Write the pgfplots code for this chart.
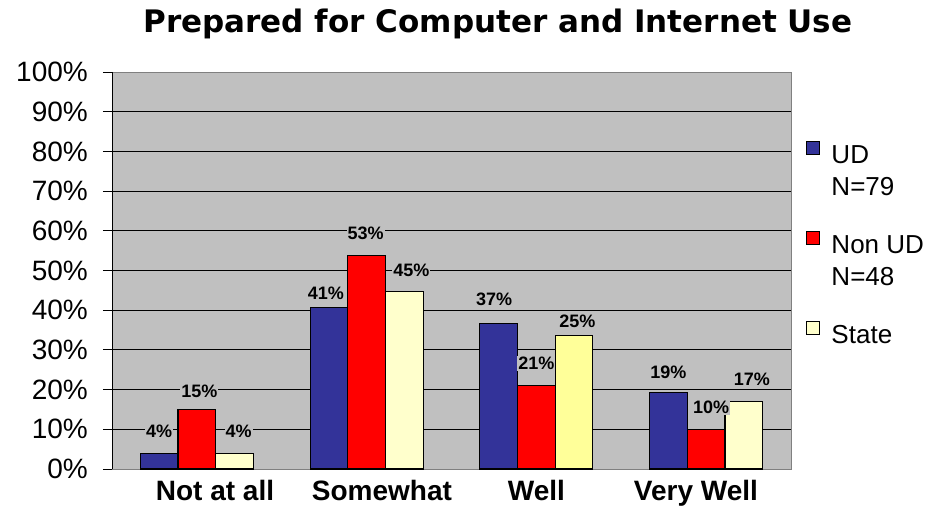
\documentclass[border=0pt]{standalone}
\usepackage{fontspec}
\setmainfont{Liberation Sans}
\newfontfamily\titlefont{DejaVu Sans}
\usepackage{pgfplots}
\usepackage{pgfplotstable}
\pgfplotsset{compat=1.18}
\definecolor{udblue}{HTML}{333399}
\definecolor{nonred}{HTML}{FF0000}
\definecolor{statey}{HTML}{FFFFCC}
\definecolor{statey2}{HTML}{FFFF99}
\definecolor{plotgray}{HTML}{C0C0C0}
\definecolor{framegray}{HTML}{808080}

\pgfplotstableread{
x y lbl off xoff
0 4.0 4 22 0
1 40.6 41 14.7 -3
2 36.6 37 24 -4.5
3 19.2 19 20.7 0
}\ud
\pgfplotstableread{
x y lbl off xoff
0 15.1 15 17.7 2.5
1 53.8 53 22 -1
2 21.1 21 22 0
3 10.0 10 21.7 5
}\nonud
\pgfplotstableread{
x y lbl off xoff
0 4.0 4 22 4
1 44.8 45 21.3 7
3 17.1 17 21.7 8
}\state
\pgfplotstableread{
x y lbl off xoff
2 33.7 25 13.7 3.4
}\statewell

\newcommand\leg[1]{\rule[-7.2bp]{0pt}{33bp}#1}
\newcommand\spacer{\rule{0pt}{22bp}}

\begin{document}
\begin{tikzpicture}
\path[use as bounding box] (-112bp,-38bp) rectangle (831bp,469bp);
\begin{axis}[
  at={(0,0)}, anchor=south west,
  scale only axis, width=679bp, height=397bp,
  xmin=-0.5, xmax=3.5, ymin=0, ymax=100,
  axis background/.style={fill=plotgray},
  axis line style={draw=framegray, line width=0.9bp},
  ymajorgrids, grid style={black, line width=0.9bp},
  ytick={0,10,...,100},
  yticklabels={0\%,10\%,20\%,30\%,40\%,50\%,60\%,70\%,80\%,90\%,100\%},
  ytick pos=left, tick align=outside, major tick length=9bp,
  ytick style={black, line width=0.9bp},
  yticklabel style={font=\fontsize{28bp}{30bp}\selectfont, anchor=east, inner sep=0pt, xshift=-15bp},
  xtick={0.107,1.09,2.0,2.94},
  xticklabels={Not at all, Somewhat, Well, Very Well},
  xtick style={draw=none},
  xticklabel style={font=\bfseries\fontsize{28bp}{30bp}\selectfont, anchor=base, inner sep=0pt, yshift=-22bp},
  ybar, bar width=0.222,
  point meta=explicit symbolic,
  lbl/.style={
    nodes near coords={\pgfplotspointmeta\%},
    visualization depends on={\thisrow{off} \as \myoff},
    visualization depends on={\thisrow{xoff} \as \myxoff},
    nodes near coords style={font=\bfseries\fontsize{18bp}{20bp}\selectfont, fill=plotgray, inner sep=1bp, anchor=center, xshift=\myxoff*1bp, yshift=\myoff*1bp, text=black},
  },
  sq/.style={legend image code/.code={\path[draw=none, fill=none] (0bp,0bp) -- (23bp,0bp); \draw[##1, draw=black, line width=1bp] (0bp,-2.5bp) rectangle (13bp,10.5bp);}},
  legend style={at={(axis description cs:1.0221,0.8388)}, anchor=north west, draw=none, fill=none, inner sep=0pt, outer sep=0pt, row sep=0pt, column sep=0pt, font=\fontsize{26bp}{28bp}\selectfont, cells={anchor=west, inner xsep=0pt, inner ysep=0pt}},
]
\addplot[fill=udblue, draw=black, line width=1.1bp, bar shift=-0.222, lbl, sq] table[x=x, y=y, meta=lbl] {\ud};
\addlegendentry{\leg{UD}}
\addlegendimage{empty legend}\addlegendentry{\leg{N=79}}
\addlegendimage{empty legend}\addlegendentry{\spacer}
\addplot[fill=nonred, draw=black, line width=1.1bp, bar shift=0, lbl, sq] table[x=x, y=y, meta=lbl] {\nonud};
\addlegendentry{\leg{Non UD}}
\addlegendimage{empty legend}\addlegendentry{\leg{N=48}}
\addlegendimage{empty legend}\addlegendentry{\spacer}
\addplot[fill=statey, draw=black, line width=1.1bp, bar shift=0.222, lbl, sq] table[x=x, y=y, meta=lbl] {\state};
\addlegendentry{\leg{State}}
\addplot[fill=statey2, draw=black, line width=1.1bp, bar shift=0.222, lbl, forget plot] table[x=x, y=y, meta=lbl] {\statewell};
\draw[black, line width=0.9bp] (rel axis cs:0,0) -- (rel axis cs:0,1);
\end{axis}
\node[font=\titlefont\bfseries\fontsize{31bp}{36bp}\selectfont, anchor=base] at (386bp,436bp) {Prepared for Computer and Internet Use};
\end{tikzpicture}
\end{document}
